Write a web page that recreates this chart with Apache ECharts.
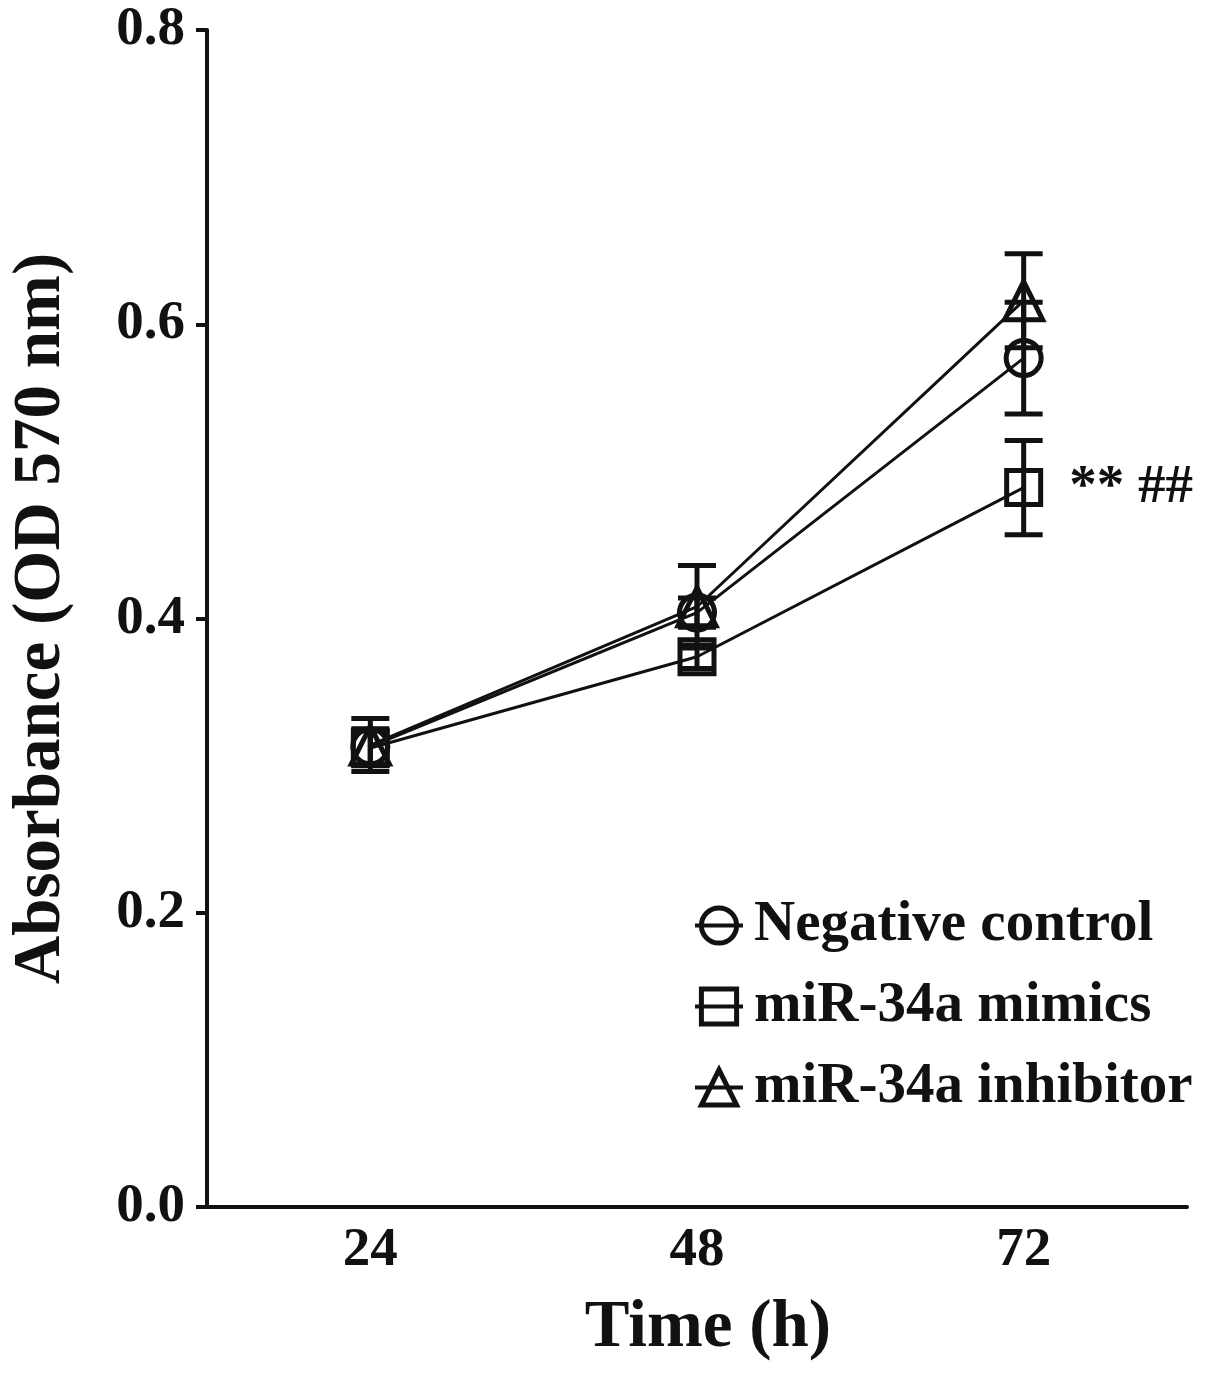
<!DOCTYPE html>
<html>
<head>
<meta charset="utf-8">
<script src="https://cdn.jsdelivr.net/npm/echarts@6/dist/echarts.min.js"></script>
<style>
html,body{margin:0;padding:0;background:#fff;}
#main{width:1205px;height:1376px;}
</style>
</head>
<body>
<div id="main"></div>
<script>
// ---- data ----
var timeLabels = ['24', '48', '72'];
var negativeControl = [0.313, 0.404, 0.577];
var negativeControlErr = [0.012, 0.010, 0.038];
var mimics = [0.312, 0.374, 0.489];
var mimicsErr = [0.012, 0.008, 0.032];
var inhibitor = [0.314, 0.408, 0.616];
var inhibitorErr = [0.018, 0.028, 0.032];
var seriesNames = ['Negative control', 'miR-34a mimics', 'miR-34a inhibitor'];
var yTicks = [0.0, 0.2, 0.4, 0.6, 0.8];
var annotationText = '** ##';

var FONT = "'Liberation Serif', 'Times New Roman', serif";
var INK = '#111';

function errData(vals, errs) {
  return vals.map(function (v, i) { return [i, v - errs[i], v + errs[i]]; });
}
function errSeries(vals, errs) {
  return {
    type: 'custom',
    silent: true,
    z: 3,
    data: errData(vals, errs),
    renderItem: function (params, api) {
      var x = api.value(0);
      var lo = api.coord([x, api.value(1)]);
      var hi = api.coord([x, api.value(2)]);
      var half = 19;
      var st = { stroke: INK, lineWidth: 5, fill: null };
      return {
        type: 'group',
        children: [
          { type: 'line', shape: { x1: lo[0], y1: lo[1], x2: hi[0], y2: hi[1] }, style: st },
          { type: 'line', shape: { x1: lo[0] - half, y1: lo[1], x2: lo[0] + half, y2: lo[1] }, style: st },
          { type: 'line', shape: { x1: hi[0] - half, y1: hi[1], x2: hi[0] + half, y2: hi[1] }, style: st }
        ]
      };
    }
  };
}
function lineSeries(name, vals, symbol, size, annotateIdx) {
  return {
    name: name,
    type: 'line',
    z: 4,
    symbol: symbol,
    symbolSize: size,
    showAllSymbol: true,
    lineStyle: { color: INK, width: 3 },
    itemStyle: { color: 'rgba(255,255,255,0)', borderColor: INK, borderWidth: 5 },
    emphasis: { disabled: true },
    data: vals.map(function (v, i) {
      var d = { value: v };
      if (i === annotateIdx) {
        d.label = {
          show: true, position: 'right', distance: 26,
          formatter: annotationText,
          fontFamily: FONT, fontWeight: 'bold', fontSize: 55, color: INK
        };
      }
      return d;
    })
  };
}

var chart = echarts.init(document.getElementById('main'), null, { renderer: 'canvas' });
chart.setOption({
  backgroundColor: '#fff',
  animation: false,
  grid: { left: 205, right: 18, top: 30, bottom: 169, containLabel: false },
  xAxis: {
    type: 'category',
    data: timeLabels,
    boundaryGap: true,
    name: 'Time (h)',
    nameLocation: 'middle',
    nameGap: 88,
    nameTextStyle: { fontFamily: FONT, fontWeight: 'bold', fontSize: 67, color: INK, padding: [0, 0, 0, 22] },
    axisLine: { lineStyle: { color: INK, width: 4 } },
    axisTick: { alignWithLabel: true, length: 12, lineStyle: { color: INK, width: 4 } },
    axisLabel: { fontFamily: FONT, fontWeight: 'bold', fontSize: 55, color: INK, margin: 16 },
    splitLine: { show: false }
  },
  yAxis: {
    type: 'value',
    min: 0, max: 0.8, interval: 0.2,
    name: 'Absorbance (OD 570 nm)',
    nameLocation: 'middle',
    nameGap: 132,
    nameTextStyle: { fontFamily: FONT, fontWeight: 'bold', fontSize: 67, color: INK },
    axisLine: { show: true, lineStyle: { color: INK, width: 4 } },
    axisTick: { show: true, length: 11, lineStyle: { color: INK, width: 4 } },
    axisLabel: {
      fontFamily: FONT, fontWeight: 'bold', fontSize: 55, color: INK, margin: 22,
      formatter: function (v) { return v.toFixed(1); },
      customValues: yTicks
    },
    splitLine: { show: false }
  },
  legend: {
    orient: 'vertical',
    left: 688,
    top: 892,
    itemWidth: 48,
    itemHeight: 44,
    itemGap: 24,
    itemStyle: { borderWidth: 5, borderColor: INK, color: 'rgba(255,255,255,0)' },
    lineStyle: { width: 4, color: INK },
    textStyle: { fontFamily: FONT, fontWeight: 'bold', fontSize: 57, color: INK, padding: [0, 0, 0, 6] },
    data: seriesNames
  },
  series: [
    errSeries(negativeControl, negativeControlErr),
    errSeries(mimics, mimicsErr),
    errSeries(inhibitor, inhibitorErr),
    lineSeries(seriesNames[0], negativeControl, 'circle', 35, -1),
    lineSeries(seriesNames[1], mimics, 'rect', 34, 2),
    lineSeries(seriesNames[2], inhibitor, 'triangle', 38, -1)
  ]
});
</script>
</body>
</html>
